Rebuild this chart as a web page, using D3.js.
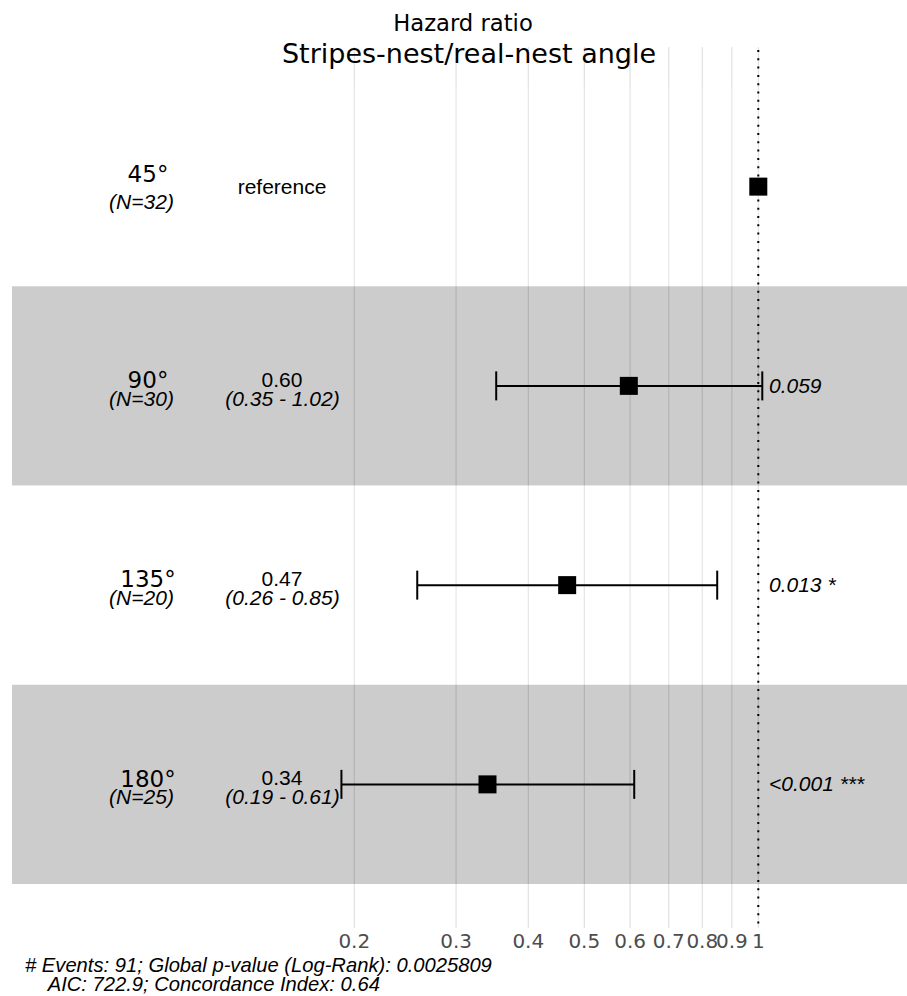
<!DOCTYPE html>
<html>
<head>
<meta charset="utf-8">
<script src="https://cdn.jsdelivr.net/npm/d3@7"></script>
<style>
  html, body { margin: 0; padding: 0; background: #fff; }
  svg { display: block; }
  .lab { font-family: "Liberation Sans", Arial, sans-serif; fill: #000; }
  .theme { font-family: "DejaVu Sans", sans-serif; }
</style>
</head>
<body>
<div id="chart"></div>
<script>
// rows of the forest plot, top to bottom
const levels = ["45°", "90°", "135°", "180°"]
const nLabels = ["(N=32)", "(N=30)", "(N=20)", "(N=25)"]
const hr = [1, 0.597, 0.467, 0.34]
const lower = [null, 0.352, 0.257, 0.19]
const upper = [null, 1.016, 0.849, 0.61]
const estLabels = ["reference", "0.60", "0.47", "0.34"]
const ciLabels = ["", "(0.35 - 1.02)", "(0.26 - 0.85)", "(0.19 - 0.61)"]
const pLabels = ["", "0.059", "0.013 *", "<0.001 ***"]
const ticks = [0.2, 0.3, 0.4, 0.5, 0.6, 0.7, 0.8, 0.9, 1]
const footLines = [
  "# Events: 91; Global p-value (Log-Rank): 0.0025809",
  "AIC: 722.9; Concordance Index: 0.64"
]

const width = 907
const height = 996

const svg = d3.select("#chart").append("svg")
  .attr("width", width)
  .attr("height", height)

const x = d3.scaleLog().domain([0.2, 1]).range([354.3, 758.3])
const y = d3.scaleLinear().domain([0.5, 4.5]).range([87, 884])
const panelTop = 47, panelBottom = 928

// grid lines (drawn under the shaded bands)
svg.append("g").selectAll("line")
  .data(ticks)
  .join("line")
  .attr("x1", d => x(d)).attr("x2", d => x(d))
  .attr("y1", panelTop).attr("y2", panelBottom)
  .attr("stroke", "#dedede")
  .attr("stroke-width", 1.1)

// alternating bands
svg.append("g").selectAll("rect")
  .data(levels)
  .join("rect")
  .attr("x", 12)
  .attr("width", width - 12)
  .attr("y", (d, i) => y(i + 0.5))
  .attr("height", (d, i) => y(i + 1.5) - y(i + 0.5))
  .attr("fill", (d, i) => i % 2 ? "rgba(0,0,0,0.2)" : "rgba(255,255,255,0.2)")

// reference line at HR = 1
svg.append("line")
  .attr("x1", x(1)).attr("x2", x(1))
  .attr("y1", 50).attr("y2", panelBottom)
  .attr("stroke", "#000")
  .attr("stroke-width", 2)
  .attr("stroke-dasharray", "2,6.3")

// error bars
const bars = levels.map((d, i) => ({i, lo: lower[i], hi: upper[i]})).filter(d => d.lo != null)
const capH = 29
const eb = svg.append("g").attr("stroke", "#000").attr("stroke-width", 2)
eb.selectAll(".h").data(bars).join("line")
  .attr("x1", d => x(d.lo)).attr("x2", d => x(d.hi))
  .attr("y1", d => y(d.i + 1)).attr("y2", d => y(d.i + 1))
eb.selectAll(".l").data(bars).join("line")
  .attr("x1", d => x(d.lo)).attr("x2", d => x(d.lo))
  .attr("y1", d => y(d.i + 1) - capH / 2).attr("y2", d => y(d.i + 1) + capH / 2)
eb.selectAll(".r").data(bars).join("line")
  .attr("x1", d => x(d.hi)).attr("x2", d => x(d.hi))
  .attr("y1", d => y(d.i + 1) - capH / 2).attr("y2", d => y(d.i + 1) + capH / 2)

// points
const sq = 18
svg.append("g").selectAll("rect")
  .data(hr)
  .join("rect")
  .attr("x", d => x(d) - sq / 2)
  .attr("y", (d, i) => y(i + 1) - sq / 2)
  .attr("width", sq).attr("height", sq)
  .attr("fill", "#000")

// left columns
const rowG = svg.append("g").selectAll("g")
  .data(levels)
  .join("g")
  .attr("transform", (d, i) => `translate(0,${y(i + 1)})`)

rowG.append("text")
  .attr("class", "theme")
  .attr("x", 148)
  .attr("y", (d, i) => i === 0 ? -4.4 : 2.3)
  .attr("text-anchor", "middle")
  .attr("font-size", 23)
  .text(d => d)

rowG.append("text")
  .attr("class", "lab")
  .attr("x", 141.5)
  .attr("y", (d, i) => i === 0 ? 22.6 : 19.7)
  .attr("text-anchor", "middle")
  .attr("font-size", 21)
  .attr("font-style", "italic")
  .text((d, i) => nLabels[i])

rowG.append("text")
  .attr("class", "lab")
  .attr("x", 282)
  .attr("y", (d, i) => i === 0 ? 7.5 : 0.7)
  .attr("text-anchor", "middle")
  .attr("font-size", 21)
  .text((d, i) => estLabels[i])

rowG.append("text")
  .attr("class", "lab")
  .attr("x", 282.5)
  .attr("y", 19.7)
  .attr("text-anchor", "middle")
  .attr("font-size", 21)
  .attr("font-style", "italic")
  .text((d, i) => ciLabels[i])

rowG.append("text")
  .attr("class", "lab")
  .attr("x", 769)
  .attr("y", 7)
  .attr("font-size", 21)
  .attr("font-style", "italic")
  .text((d, i) => pLabels[i])

// x axis tick labels
svg.append("g").selectAll("text")
  .data(ticks)
  .join("text")
  .attr("class", "theme")
  .attr("x", d => x(d))
  .attr("y", 948)
  .attr("text-anchor", "middle")
  .attr("font-size", 20)
  .attr("fill", "#4d4d4d")
  .text(d => d3.format("~g")(d))

// titles
svg.append("text")
  .attr("class", "theme")
  .attr("x", 463).attr("y", 31)
  .attr("text-anchor", "middle")
  .attr("font-size", 22.7)
  .text("Hazard ratio")

svg.append("text")
  .attr("class", "theme")
  .attr("x", 469).attr("y", 63)
  .attr("text-anchor", "middle")
  .attr("font-size", 27)
  .text("Stripes-nest/real-nest angle")

// footnote
svg.append("g").selectAll("text")
  .data(footLines)
  .join("text")
  .attr("class", "lab")
  .attr("x", (d, i) => i ? 47.7 : 25)
  .attr("y", (d, i) => i ? 991 : 971.5)
  .attr("font-size", 20.2)
  .attr("font-style", "italic")
  .text(d => d)
</script>
</body>
</html>
